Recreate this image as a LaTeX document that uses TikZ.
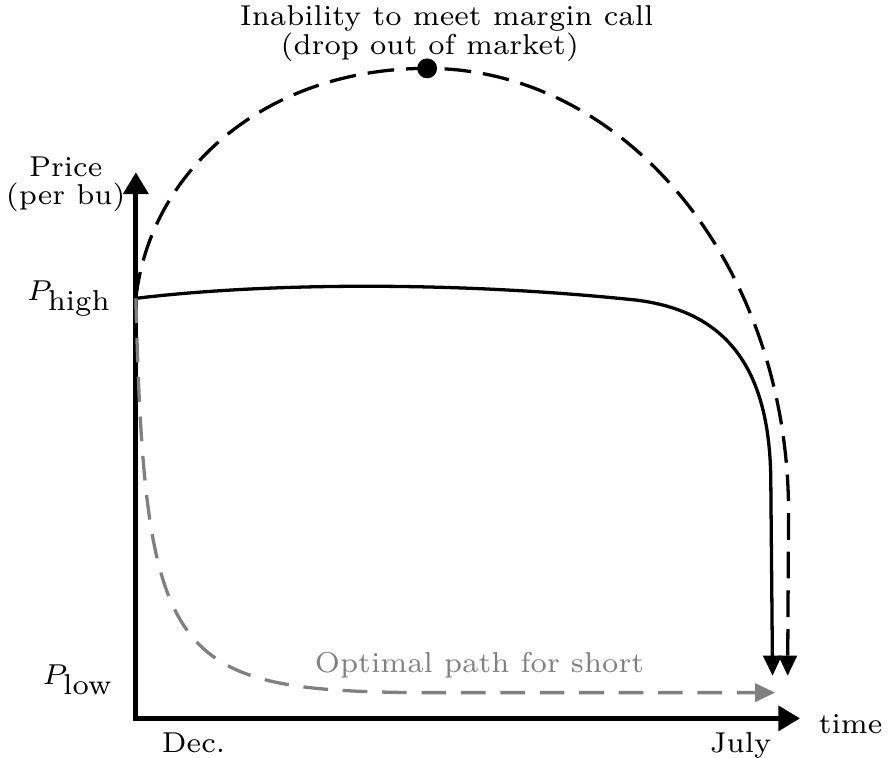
\documentclass[tikz,border=0pt]{standalone}
\usetikzlibrary{arrows.meta}
\definecolor{cpath}{gray}{0.5}

\begin{document}
\begin{tikzpicture}[scale=0.76,
  axes/.style={line width=1.2pt,
               {Triangle[length=5.3pt,width=6pt]}-{Triangle[length=5.3pt,width=6pt]}},
  route/.style={line width=0.8pt, -{Triangle[length=4.9pt,width=4.4pt]}},
  lab/.style={font=\scriptsize, inner sep=2pt, align=center}
]
  \useasboundingbox (-1.53,-0.44) rectangle (8.47,8.09);

  % axes
  \coordinate (o) at (0,0);
  \coordinate (ytip) at (0,6.15);
  \coordinate (xtip) at (7.48,0);
  \draw[axes] (ytip) -- (o) -- (xtip);

  \node[lab] (price) at (-0.79,6.01) {Price\\[-1.2pt](per bu)};
  \node[lab] (time) at (8.05,-0.06) {time};
  \node[lab] (dec) at (0.65,-0.28) {Dec.};
  \node[lab] (july) at (6.81,-0.30) {July};
  \node[lab, anchor=east] (phigh) at (-0.17,4.73) {$P_{\mbox{\scriptsize high}}$};
  \node[lab, anchor=east] (plow) at (-0.15,0.43) {$P_{\mbox{\scriptsize low}}$};

  % paths
  \coordinate (start) at (0,4.73);
  \coordinate (peak) at (3.28,7.32);
  \coordinate (bend) at (5.64,4.71);
  \coordinate (dend) at (7.34,0.48);
  \coordinate (send) at (7.17,0.48);
  \coordinate (gend) at (7.20,0.29);

  \node[circle, fill, inner sep=0pt, minimum size=0.17cm] (dot) at (peak) {};
  \node[lab, inner sep=0pt, anchor=base] (mcall) at (3.50,7.80) {Inability to meet margin call};
  \node[lab, inner sep=0pt, anchor=base] (mdrop) at (3.31,7.48) {(drop out of market)};

  \draw[route, dash pattern=on 6.5pt off 2.9pt]
    (start) .. controls (0.16,6.17) and (1.46,7.32) .. (peak)
            .. controls (5.53,7.32) and (7.35,5.08) .. (7.35,2.32) -- (dend);
  \draw[route]
    (start) .. controls (1.40,4.90) and (3.54,4.93) .. (bend)
            .. controls (6.58,4.59) and (7.14,4.03) .. (7.15,2.68) -- (send);
  \draw[route, color=cpath, dash pattern=on 6pt off 3.6pt]
    (start) .. controls (0.10,0.65) and (0.38,0.31) .. (3.20,0.29) -- (gend);
  \node[lab, text=cpath] (short) at (3.87,0.60) {Optimal path for short};
\end{tikzpicture}
\end{document}
